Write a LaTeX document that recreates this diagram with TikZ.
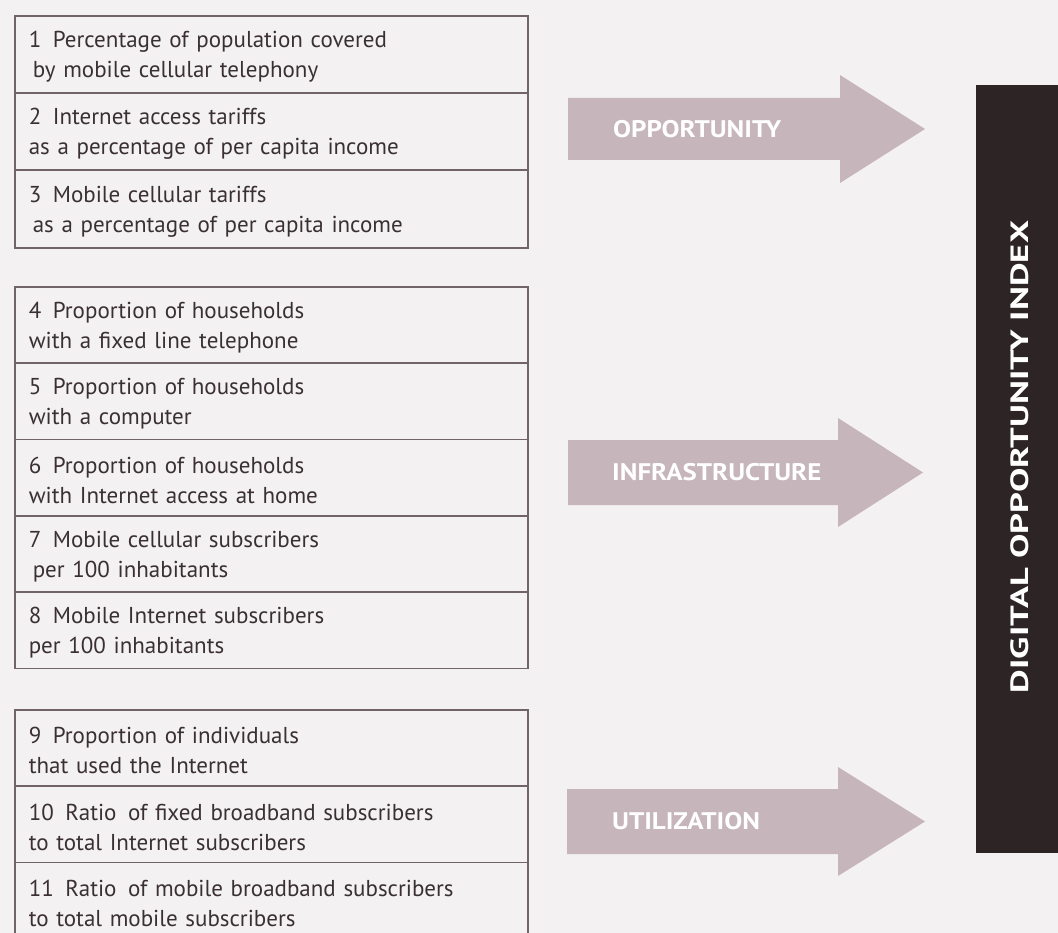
\documentclass[tikz,border=0pt]{standalone}
\usepackage{fontspec}
\setmainfont{PT Sans}
\definecolor{bg}{RGB}{243,241,241}
\definecolor{edge}{RGB}{112,100,106}
\definecolor{ink}{RGB}{58,48,52}
\definecolor{arrowc}{RGB}{198,181,187}
\definecolor{barc}{RGB}{45,36,37}
\newcommand{\lift}{\rule{0pt}{22pt}}
\begin{document}
\begin{tikzpicture}[x=1pt,y=-1pt,
  rowbox/.style={draw=edge, line width=1.6pt, rectangle, anchor=north west,
    text width=485pt, inner xsep=14pt, inner ysep=0pt, minimum height=#1,
    align=left, font=\fontsize{23}{30}\selectfont, text=ink},
  rowbox/.default=76.5pt,
  bigarrow/.style={fill=arrowc},
  arrowlabel/.style={anchor=west, text=white, inner sep=0pt,
    font=\fontsize{24}{24}\selectfont\bfseries},
  indexbar/.style={fill=barc, anchor=north west, inner sep=0pt,
    minimum width=82pt, minimum height=768pt},
  indexlabel/.style={rotate=90, text=white, inner sep=0pt,
    font=\fontsize{25}{25}\selectfont\bfseries}
]
\fill[bg] (0,0) rectangle (1058,933);
\useasboundingbox (0,0) rectangle (1058,933);

\begin{scope}
\clip (0,0) rectangle (1058,933);
% group 1
\node[rowbox=77pt] (r1) at (14,15) {\lift 1\hspace{0.5em}Percentage of population covered\\\hspace{4pt}by mobile cellular telephony};
\node[rowbox=77pt] (r2) at (14,92) {\lift 2\hspace{0.5em}Internet access tariffs\\as a percentage of per capita income};
\node[rowbox=78pt] (r3) at (14,169) {\lift 3\hspace{0.5em}Mobile cellular tariffs\\\hspace{4pt}as a percentage of per capita income};
% group 2
\node[rowbox] (r4) at (14,286) {\lift 4\hspace{0.5em}Proportion of households\\with a fixed line telephone};
\node[rowbox] (r5) at (14,362.25) {\lift 5\hspace{0.5em}Proportion of households\\with a computer};
\node[rowbox] (r6) at (14,438.5) {\lift 6\hspace{0.5em}Proportion of households\\with Internet access at home};
\node[rowbox] (r7) at (14,514.75) {\lift 7\hspace{0.5em}Mobile cellular subscribers\\\hspace{4pt}per 100 inhabitants};
\node[rowbox] (r8) at (14,591) {\lift 8\hspace{0.5em}Mobile Internet subscribers\\per 100 inhabitants};
% group 3
\node[rowbox] (r9) at (14,709) {\lift 9\hspace{0.5em}Proportion of individuals\\that used the Internet};
\node[rowbox] (r10) at (14,785.25) {\lift 10\hspace{0.5em}Ratio\hspace{0.5em}of fixed broadband subscribers\\to total Internet subscribers};
\node[rowbox] (r11) at (14,861.5) {\lift 11\hspace{0.5em}Ratio\hspace{0.5em}of mobile broadband subscribers\\to total mobile subscribers};
\end{scope}

% arrows
\coordinate (a1) at (568,129);
\fill[bigarrow] (a1) ++(0,-31) -- ++(272,0) -- ++(0,-23) -- ++(85,54) -- ++(-85,54) -- ++(0,-23) -- ++(-272,0) -- cycle;
\node[arrowlabel] (l1) at (613,129) {\scalebox{1.12}[1]{OPPORTUNITY}};

\coordinate (a2) at (568,472.5);
\fill[bigarrow] (a2) ++(0,-32.5) -- ++(270,0) -- ++(0,-22) -- ++(85,54.5) -- ++(-85,54.5) -- ++(0,-22) -- ++(-270,0) -- cycle;
\node[arrowlabel] (l2) at (612,472.5) {\scalebox{1.12}[1]{INFRASTRUCTURE}};

\coordinate (a3) at (567,821.5);
\fill[bigarrow] (a3) ++(0,-32.5) -- ++(271,0) -- ++(0,-22) -- ++(87,54.5) -- ++(-87,54.5) -- ++(0,-22) -- ++(-271,0) -- cycle;
\node[arrowlabel] (l3) at (612,821.5) {\scalebox{1.12}[1]{UTILIZATION}};

% index bar
\node[indexbar] (dix) at (976,85) {};
\node[indexlabel] (dixl) at (1020,457) {\scalebox{1.46}[1]{DIGITAL OPPORTUNITY INDEX}};
\end{tikzpicture}
\end{document}
